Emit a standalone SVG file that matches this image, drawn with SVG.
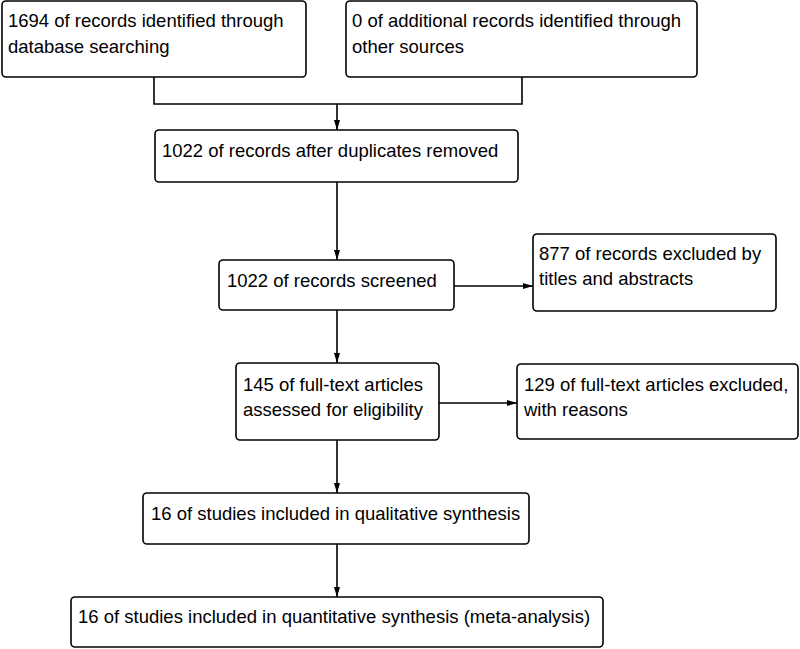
<svg xmlns="http://www.w3.org/2000/svg" width="800" height="649" viewBox="0 0 800 649">
<defs>
<marker id="arr" markerUnits="userSpaceOnUse" markerWidth="10" markerHeight="8" viewBox="0 0 10 8" refX="10" refY="4" orient="auto">
<path d="M0,1 L10,4 L0,7 Z" fill="#000"/>
</marker>
<style>
.box{fill:#fff;stroke:#000;stroke-width:1.6}
.t{font-family:"Liberation Sans",Arial,sans-serif;font-size:18.5px;fill:#000}
.c{fill:none;stroke:#000;stroke-width:1.6}
</style>
</defs>
<rect width="800" height="649" fill="#fff"/>
<g id="n1"><rect class="box" x="2" y="1" width="304" height="76" rx="4"/>
<text class="t" x="8" y="27">1694 of records identified through</text>
<text class="t" x="8" y="53">database searching</text></g>
<g id="n2"><rect class="box" x="346" y="1" width="351" height="76" rx="4"/>
<text class="t" x="352" y="27">0 of additional records identified through</text>
<text class="t" x="352" y="53">other sources</text></g>
<g id="n3"><rect class="box" x="155" y="130" width="363" height="52" rx="4"/>
<text class="t" x="162" y="157">1022 of records after duplicates removed</text></g>
<g id="n4"><rect class="box" x="219" y="260" width="235" height="50" rx="4"/>
<text class="t" x="227" y="287">1022 of records screened</text></g>
<g id="n5"><rect class="box" x="533" y="234" width="243" height="77" rx="4"/>
<text class="t" x="539" y="260">877 of records excluded by</text>
<text class="t" x="539" y="285">titles and abstracts</text></g>
<g id="n6"><rect class="box" x="236" y="363" width="203" height="77" rx="4"/>
<text class="t" x="243" y="391">145 of full-text articles</text>
<text class="t" x="243" y="416">assessed for eligibility</text></g>
<g id="n7"><rect class="box" x="517" y="364" width="281" height="75" rx="4"/>
<text class="t" x="524" y="391">129 of full-text articles excluded,</text>
<text class="t" x="524" y="416">with reasons</text></g>
<g id="n8"><rect class="box" x="143" y="493" width="386" height="51" rx="4"/>
<text class="t" x="151" y="520">16 of studies included in qualitative synthesis</text></g>
<g id="n9"><rect class="box" x="71" y="597" width="532" height="50" rx="4"/>
<text class="t" x="78" y="623">16 of studies included in quantitative synthesis (meta-analysis)</text></g>
<g id="connectors">
<path class="c" d="M154,77 V104 H522 V77"/>
<path class="c" d="M337,104 V130" marker-end="url(#arr)"/>
<path class="c" d="M337,182 V260" marker-end="url(#arr)"/>
<path class="c" d="M454,286 H533" marker-end="url(#arr)"/>
<path class="c" d="M337,310 V363" marker-end="url(#arr)"/>
<path class="c" d="M439,403 H517" marker-end="url(#arr)"/>
<path class="c" d="M337,440 V493" marker-end="url(#arr)"/>
<path class="c" d="M337,544 V597" marker-end="url(#arr)"/>
</g>
</svg>
